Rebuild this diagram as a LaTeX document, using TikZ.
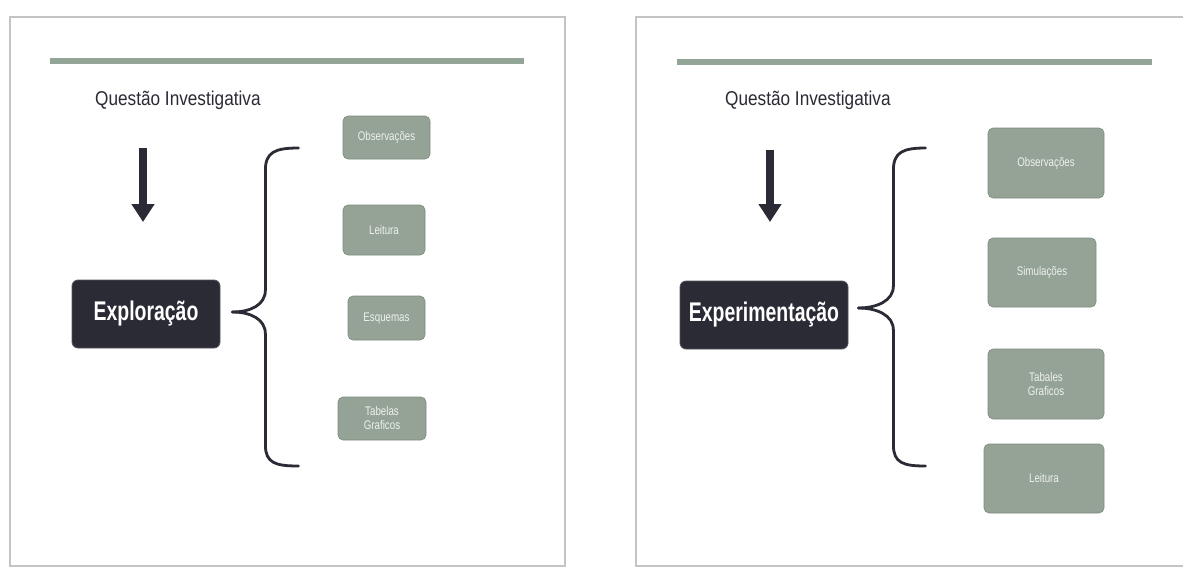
\documentclass[tikz,border=0pt]{standalone}
\usepackage{fontspec}
\setmainfont{Liberation Sans}
\newfontfamily\questionfont{Liberation Sans}[FakeStretch=0.86]
\newfontfamily\stagefont{Liberation Sans}[FakeStretch=0.72]
\newfontfamily\itemfont{Liberation Sans}[FakeStretch=0.78]
\usetikzlibrary{arrows.meta,calc}

\definecolor{sage}{HTML}{94A396}
\definecolor{sageline}{HTML}{93A597}
\definecolor{ink}{HTML}{2B2B36}
\definecolor{paletext}{HTML}{EEF1EE}
\definecolor{paneledge}{HTML}{C4C4C4}

\tikzset{
  panel/.style={draw=paneledge, line width=1.6pt, fill=white},
  topbar/.style={draw=sageline, line width=6pt},
  question/.style={anchor=west, inner sep=0pt, text=ink,
    font=\questionfont\fontsize{20}{24}\selectfont},
  stage/.style={rectangle, rounded corners=6pt, fill=ink, draw=ink!80, line width=0.8pt,
    text=white, inner sep=0pt, font=\stagefont\bfseries\fontsize{27}{30}\selectfont},
  item/.style={rectangle, rounded corners=5pt, fill=sage, draw=sage!85!black, line width=0.6pt,
    text=paletext, inner sep=0pt, align=center,
    font=\itemfont\fontsize{12.5}{14}\selectfont},
  flowarrow/.style={draw=ink, line width=8pt, -{Triangle[width=22pt,length=18pt]}},
  bracestyle/.style={draw=ink, line width=2.8pt, line cap=round}
}

\begin{document}
\begin{tikzpicture}[x=1pt,y=-1pt]
  \useasboundingbox (0,0) rectangle (1183,568);
  \fill[white] (0,0) rectangle (1183,568);

  % ---------- left panel: Exploração ----------
  \draw[panel] (10,17) rectangle (565,566);
  \draw[topbar] (50,61) -- (524,61);
  \node[question] (q1) at (95,100) {Questão Investigativa};
  \coordinate (a1s) at (143,148);
  \coordinate (a1e) at (143,222);
  \draw[flowarrow] (a1s) -- (a1e);
  \node[stage, minimum width=148pt, minimum height=68pt] (ex1) at (146,314) {Exploração};

  \coordinate (b1) at ($(ex1.east)+(12,-2)$);
  \draw[bracestyle] (b1)
    .. controls ++(18,0) and ++(0,15) .. ++(33,-22)
    -- ++(0,-120)
    .. controls ++(0,-18) and ++(-23,0) .. ++(33,-22);
  \draw[bracestyle] (b1)
    .. controls ++(18,0) and ++(0,-15) .. ++(33,22)
    -- ++(0,111)
    .. controls ++(0,18) and ++(-23,0) .. ++(33,21);

  \node[item, minimum width=87pt, minimum height=43pt] (o1) at (386.5,137.5) {Observações};
  \node[item, minimum width=82pt, minimum height=50pt] (l1) at (384,230) {Leitura};
  \node[item, minimum width=77pt, minimum height=44pt] (e1) at (386.5,318) {Esquemas};
  \node[item, minimum width=88pt, minimum height=43pt] (t1) at (382,418.5) {Tabelas\\Graficos};

  % ---------- right panel: Experimentação ----------
  \draw[panel] (636,17) rectangle (1195,566);
  \draw[topbar] (677,62) -- (1152,62);
  \node[question] (q2) at (725,100) {Questão Investigativa};
  \coordinate (a2s) at (770,150);
  \coordinate (a2e) at (770,222);
  \draw[flowarrow] (a2s) -- (a2e);
  \node[stage, minimum width=168pt, minimum height=68pt] (ex2) at (764,315) {Experimentação};

  \coordinate (b2) at ($(ex2.east)+(10,-7)$);
  \draw[bracestyle] (b2)
    .. controls ++(18,0) and ++(0,15) .. ++(35,-22)
    -- ++(0,-116)
    .. controls ++(0,-18) and ++(-22,0) .. ++(32,-22);
  \draw[bracestyle] (b2)
    .. controls ++(18,0) and ++(0,-15) .. ++(35,22)
    -- ++(0,115)
    .. controls ++(0,18) and ++(-22,0) .. ++(32,21);

  \node[item, minimum width=116pt, minimum height=70pt] (o2) at (1046,163) {Observações};
  \node[item, minimum width=108pt, minimum height=69pt] (s2) at (1042,272.5) {Simulações};
  \node[item, minimum width=116pt, minimum height=70pt] (t2) at (1046,384) {Tabales\\Graficos};
  \node[item, minimum width=120pt, minimum height=69pt] (l2) at (1044,478.5) {Leitura};
\end{tikzpicture}
\end{document}
